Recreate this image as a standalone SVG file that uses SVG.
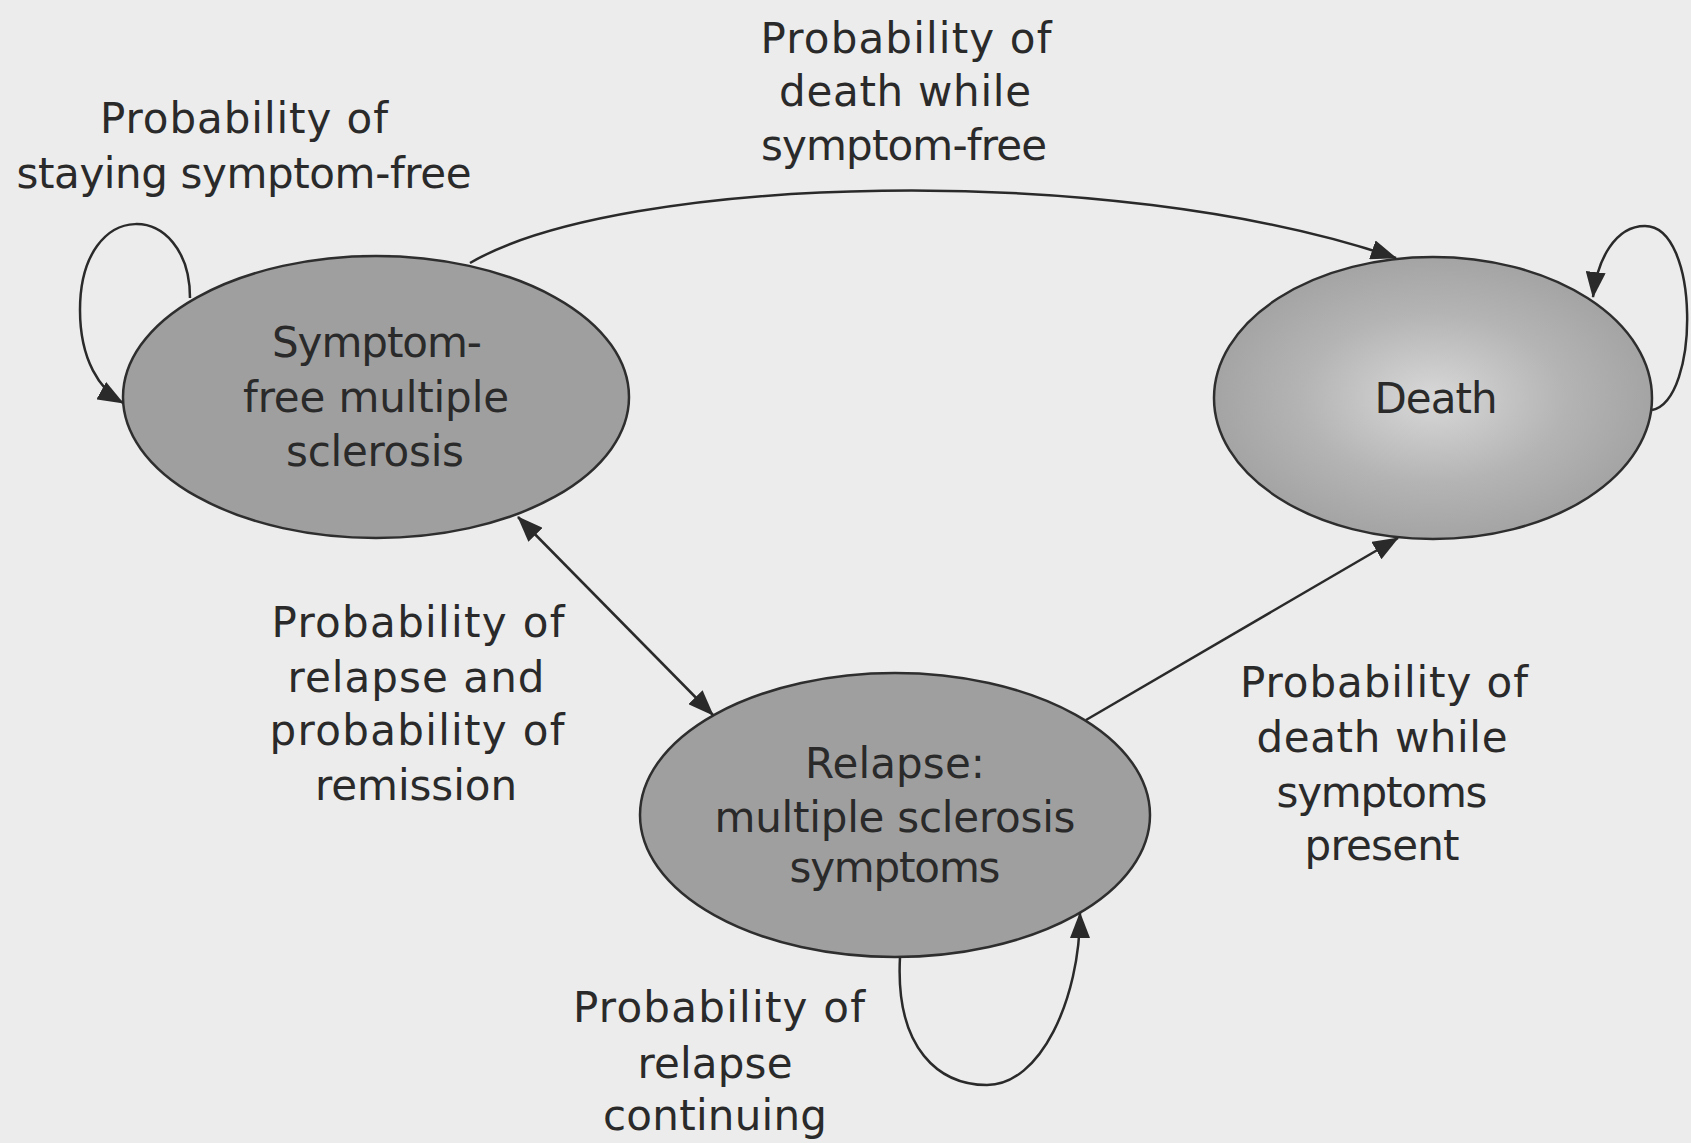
<svg xmlns="http://www.w3.org/2000/svg" width="1691" height="1143" viewBox="0 0 1691 1143">
  <defs>
    <style>
      .node { fill: #9f9f9f; stroke: #2e2e2e; stroke-width: 2.5; }
      .lbl { font-family: "DejaVu Sans", "Liberation Sans", sans-serif; font-size: 42px; fill: #2a2a2a; text-anchor: middle; }
      .edge { fill: none; stroke: #2a2a2a; stroke-width: 2.5; }
    </style>
    <radialGradient id="deathGrad" cx="0.5" cy="0.5" r="0.5">
      <stop offset="0" stop-color="#d8d8d8"/>
      <stop offset="0.6" stop-color="#b4b4b4"/>
      <stop offset="1" stop-color="#a4a4a4"/>
    </radialGradient>
    <marker id="arrow" viewBox="0 0 26 20" refX="25" refY="10" markerWidth="26" markerHeight="20" markerUnits="userSpaceOnUse" orient="auto-start-reverse">
      <path d="M0,0 L26,10 L0,20 z" fill="#2a2a2a"/>
    </marker>
  </defs>

  <rect x="0" y="0" width="1691" height="1143" fill="#ececec"/>

  <g id="node-symptom-free">
    <ellipse class="node" cx="376" cy="397" rx="253" ry="141"/>
    <text class="lbl" x="377" y="357" textLength="210">Symptom-</text>
    <text class="lbl" x="376" y="412" textLength="266">free multiple</text>
    <text class="lbl" x="375" y="466" textLength="178">sclerosis</text>
  </g>

  <g id="node-death">
    <ellipse class="node" cx="1433" cy="398" rx="219" ry="141" style="fill:url(#deathGrad)"/>
    <text class="lbl" x="1436" y="413" textLength="123">Death</text>
  </g>

  <g id="node-relapse">
    <ellipse class="node" cx="895" cy="815" rx="255" ry="142"/>
    <text class="lbl" x="895" y="778" textLength="180">Relapse:</text>
    <text class="lbl" x="895" y="832" textLength="361">multiple sclerosis</text>
    <text class="lbl" x="895" y="882" textLength="211">symptoms</text>
  </g>

  <g id="connectors">
    <path id="loop-symptom-free" class="edge" marker-end="url(#arrow)" d="M190,298 C190,200 80,195 80,310 C80,360 100,390 123,403"/>
    <path id="edge-sf-death" class="edge" marker-end="url(#arrow)" d="M470,263 C620,175 1110,160 1396,258"/>
    <path id="loop-death" class="edge" marker-end="url(#arrow)" d="M1652,410 C1700,400 1700,226 1645,226 C1615,226 1597,260 1593,297"/>
    <path id="edge-sf-relapse" class="edge" marker-start="url(#arrow)" marker-end="url(#arrow)" d="M518,517 L713,715"/>
    <path id="edge-relapse-death" class="edge" marker-end="url(#arrow)" d="M1086,720 L1398,538"/>
    <path id="loop-relapse" class="edge" marker-end="url(#arrow)" d="M900,957 C895,1050 940,1085 987,1085 C1040,1085 1080,1000 1080,913"/>
  </g>

  <g id="labels">
    <text class="lbl" x="244" y="133" textLength="288">Probability of</text>
    <text class="lbl" x="244" y="188" textLength="455">staying symptom-free</text>

    <text class="lbl" x="906" y="53" textLength="291">Probability of</text>
    <text class="lbl" x="905" y="106" textLength="252">death while</text>
    <text class="lbl" x="904" y="160" textLength="286">symptom-free</text>

    <text class="lbl" x="418" y="637" textLength="293">Probability of</text>
    <text class="lbl" x="416" y="692" textLength="257">relapse and</text>
    <text class="lbl" x="417" y="745" textLength="295">probability of</text>
    <text class="lbl" x="416" y="800" textLength="202">remission</text>

    <text class="lbl" x="1384" y="697" textLength="288">Probability of</text>
    <text class="lbl" x="1382" y="752" textLength="251">death while</text>
    <text class="lbl" x="1382" y="807" textLength="211">symptoms</text>
    <text class="lbl" x="1382" y="860" textLength="155">present</text>

    <text class="lbl" x="719" y="1022" textLength="292">Probability of</text>
    <text class="lbl" x="715" y="1078" textLength="155">relapse</text>
    <text class="lbl" x="715" y="1130" textLength="224">continuing</text>
  </g>
</svg>
